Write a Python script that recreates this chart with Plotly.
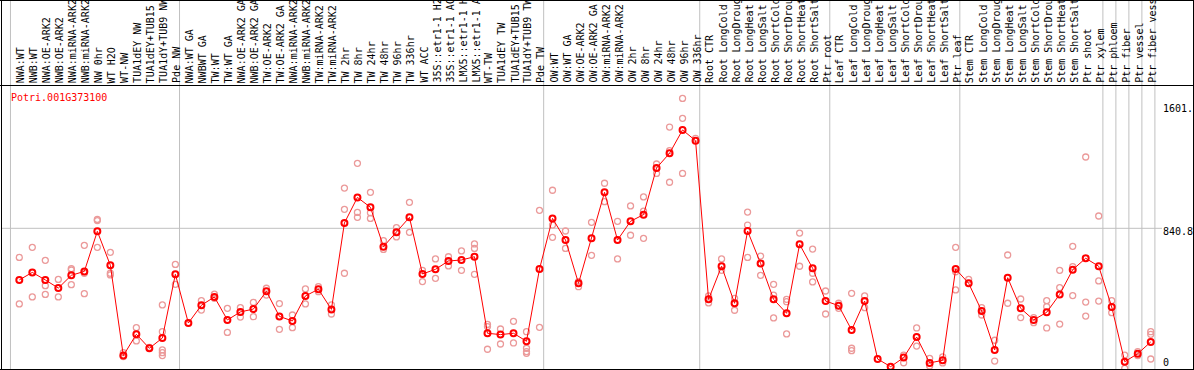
import plotly.graph_objects as go

W, H = 1194, 370

gene = "Potri.001G373100"

labels = [
    "NWA:WT", "NWB:WT", "NWA:OE-ARK2", "NWB:OE-ARK2", "NWA:miRNA-ARK2", "NWB:miRNA-ARK2",
    "NW 0hr", "WT H2O", "WT-NW", "TUA1dEY NW", "TUA1dEY+TUB15", "TUA1dY+TUB9 NW", "Pde NW",
    "NWA:WT GA", "NWBWT GA", "TW:WT", "TW:WT GA", "NWA:OE-ARK2 GA", "NWB:OE-ARK2 GA",
    "TW:OE-ARK2", "TW:OE-ARK2 GA", "NWA:miRNA-ARK2", "NWB:miRNA-ARK2", "TW:miRNA-ARK2",
    "TW:miRNA-ARK2", "TW 2hr", "TW 8hr", "TW 24hr", "TW 48hr", "TW 96hr", "TW 336hr", "WT ACC",
    "35S::etr1-1 H2", "35S::etr1-1 AC", "LMX5::etr1-1 H", "LMX5::etr1-1 A", "WT-TW",
    "TUA1dEY TW", "TUA1dEY+TUB15", "TUA1dY+TUB9 TW", "Pde TW",
    "OW:WT", "OW:WT GA", "OW:OE-ARK2", "OW:OE-ARK2 GA", "OW:miRNA-ARK2", "OW:miRNA-ARK2",
    "OW 2hr", "OW 8hr", "OW 24hr", "OW 48hr", "OW 96hr", "OW 336hr",
    "Root CTR", "Root LongCold", "Root LongDroug", "Root LongHeat", "Root LongSalt",
    "Root ShortCold", "Root ShortDrou", "Root ShortHeat", "Root ShortSalt", "Ptr root",
    "Leaf CTR", "Leaf LongCold", "Leaf LongDroug", "Leaf LongHeat", "Leaf LongSalt",
    "Leaf ShortCold", "Leaf ShortDrou", "Leaf ShortHeat", "Leaf ShortSalt", "Ptr leaf",
    "Stem CTR", "Stem LongCold", "Stem LongDroug", "Stem LongHeat", "Stem LongSalt",
    "Stem ShortCold", "Stem ShortDrou", "Stem ShortHeat", "Stem ShortSalt", "Ptr shoot", "Ptr xylem",
    "Ptr phloem", "Ptr fiber", "Ptr vessel", "Ptr fiber vess",
]

means = [
    538, 582, 538, 490, 565, 588, 823, 624, 94, 219, 137, 197, 571,
    285, 389, 438, 303, 350, 367, 471, 324, 297, 444, 483, 365, 872, 1022, 964, 733, 817, 905,
    573, 600, 649, 655, 674, 225, 217, 225, 178, 602,
    899, 772, 518, 782, 1052, 772, 882, 921, 1195, 1281, 1418, 1355,
    424, 618, 401, 825, 635, 424, 342, 747, 606, 414,
    387, 244, 414, 74, 29, 82, 203, 51, 66, 602,
    518, 356, 127, 551, 371, 303, 348, 453, 598, 665, 618,
    379, 58, 105, 174,
]

replicates = [
    [670, 397], [729, 438], [653, 504, 453], [541, 438], [604, 596, 510], [741, 577, 457],
    [893, 886, 729], [700, 577, 567], [111, 88], [258, 180], [142], [391, 234, 127, 111, 94], [629, 512],
    [], [416, 361], [455, 430], [371, 230], [375, 320], [406, 322], [489, 449], [399, 248],
    [332, 258], [485, 397], [498, 469], [391, 338], [1077, 952, 577], [1222, 934, 905],
    [1052, 932, 899], [768, 717], [845, 790], [993, 817], [594, 528], [661, 547], [674, 620],
    [708, 594], [749, 723, 571], [277, 264, 131], [250, 162], [295, 168], [234, 137, 117, 107],
    [946, 260],
    [1064, 860, 788], [825, 723], [528, 498], [876, 682], [1105, 997], [882, 661], [972, 800],
    [1025, 942, 782], [1218, 1163], [1435, 1296, 1111], [1603, 1486, 1163], [1369],
    [444, 403], [661, 594], [430, 360], [936, 860, 670], [678, 565], [512, 449, 315],
    [424, 410, 221], [813, 618], [719, 577, 526], [473, 338],
    [401, 371], [459, 137, 123], [444, 375], [], [], [97, 52], [256, 150], [78, 33], [86, 51],
    [729, 586, 479],
    [541], [375, 332], [184, 62], [684, 401], [426, 317], [317, 287], [416, 381, 256],
    [594, 493, 279], [735, 616, 446], [1259, 408, 326], [913, 532, 414],
    [416, 346], [97, 19], [117, 94], [234, 219, 74],
]

# first index of each column group (plus the end)
group_starts = [0, 13, 41, 53, 63, 73, 84, 85, 86, 87, 88]

axis_labels = ["1601.", "840.8", "0"]
grid_value = 840.8
y_max = 1681.6

FONT = "DejaVu Sans Mono"
RED = "#ff0000"
PINK = "#eb9a9a"

x_idx = list(range(len(labels)))
rx, ry = [], []
for i, vals in enumerate(replicates):
    for v in vals:
        rx.append(i)
        ry.append(v)

fig = go.Figure()
fig.add_trace(go.Scatter(
    x=rx, y=ry, mode="markers", cliponaxis=False,
    marker=dict(symbol="circle-open", size=6, color=PINK, line=dict(width=1.3, color=PINK)),
    hoverinfo="skip", showlegend=False,
))
fig.add_trace(go.Scatter(
    x=x_idx, y=means, mode="lines+markers", cliponaxis=False,
    line=dict(color=RED, width=1),
    marker=dict(symbol="circle-open", size=6, color=RED, line=dict(width=2, color=RED)),
    showlegend=False,
))

# pixel helpers
def px(x):
    return x / W

def py(y):
    return 1 - y / H

x0 = -19.3 / 13.005
x1 = x0 + W / 13.005
y_dom_top = 1 - 85 / H
v_bottom = (371.6 - H) / ((371.6 - 85) / y_max)

shapes = []
for k in group_starts:
    shapes.append(dict(type="line", xref="x", yref="paper", x0=k - 0.68, x1=k - 0.68,
                       y0=0, y1=1, line=dict(color="#c0c0c0", width=1), layer="below"))
shapes.append(dict(type="line", xref="paper", yref="y", x0=px(1), x1=px(1162),
                   y0=grid_value, y1=grid_value, line=dict(color="#c0c0c0", width=1), layer="below"))
# black frame lines
for (a, b, c, d) in [(0, 85.5, W, 85.5), (0, 0.5, W, 0.5), (0, 369.5, W, 369.5),
                     (1.5, 0, 1.5, H), (1193.5, 0, 1193.5, H)]:
    shapes.append(dict(type="line", xref="paper", yref="paper", x0=px(a), x1=px(c),
                       y0=py(b), y1=py(d), line=dict(color="black", width=1), layer="above"))

annotations = []
for i, lab in enumerate(labels):
    annotations.append(dict(x=i + 0.08, y=py(84), xref="x", yref="paper", text=lab, textangle=-90,
                            xanchor="center", yanchor="bottom", showarrow=False, borderpad=0,
                            font=dict(family=FONT, size=10, color="black")))
annotations.append(dict(x=px(9), y=py(97), xref="paper", yref="paper", text=gene,
                        xanchor="left", yanchor="middle", showarrow=False,
                        font=dict(family=FONT, size=10, color=RED)))
for lab, top in zip(axis_labels, [105, 228, 359]):
    annotations.append(dict(x=px(1162), y=py(top - 3), xref="paper", yref="paper", text=lab,
                            xanchor="left", yanchor="top", showarrow=False, borderpad=0,
                            font=dict(family=FONT, size=10, color="black")))

fig.update_layout(
    width=W, height=H, margin=dict(l=0, r=0, t=0, b=0),
    paper_bgcolor="white", plot_bgcolor="white",
    xaxis=dict(range=[x0, x1], domain=[0, 1], visible=False, showgrid=False, zeroline=False),
    yaxis=dict(range=[v_bottom, y_max], domain=[0, y_dom_top], visible=False,
               showgrid=False, zeroline=False),
    shapes=shapes, annotations=annotations,
)

fig.write_html("out.html", config={"displayModeBar": False},
               post_script="document.body.style.margin='0';document.body.style.overflow='hidden';")
